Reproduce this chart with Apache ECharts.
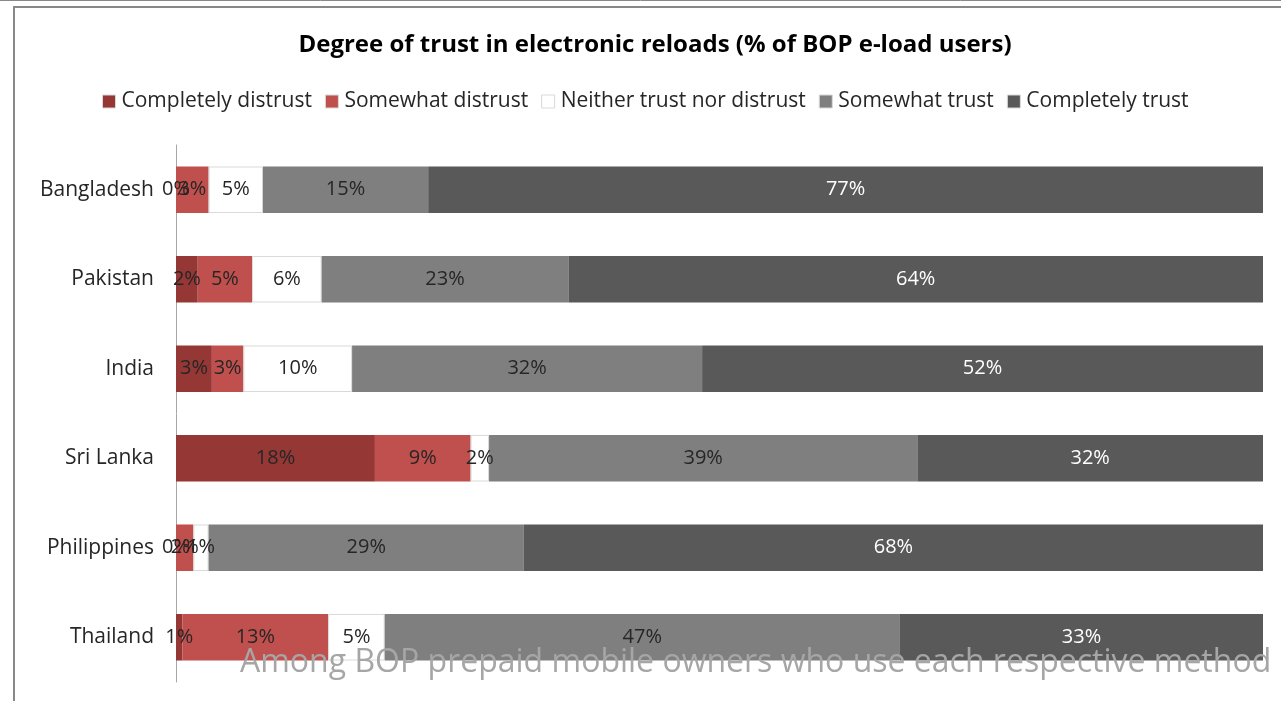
<!DOCTYPE html>
<html>
<head>
<meta charset="utf-8">
<script src="https://cdn.jsdelivr.net/npm/echarts@6/dist/echarts.min.js"></script>
<style>
html,body{margin:0;padding:0;background:#fff;}
#chart{width:1281px;height:701px;}
</style>
</head>
<body>
<div id="chart"></div>
<script>
const titleText = 'Degree of trust in electronic reloads (% of BOP e-load users)';
const noteText = 'Among BOP prepaid mobile owners who use each respective method';
const categories = ['Bangladesh', 'Pakistan', 'India', 'Sri Lanka', 'Philippines', 'Thailand'];
const seriesNames = ['Completely distrust', 'Somewhat distrust', 'Neither trust nor distrust', 'Somewhat trust', 'Completely trust'];
const completelyDistrust = [0.0, 2.0, 3.3, 18.3, 0.0, 0.6];
const somewhatDistrust  = [3.0, 5.0, 2.9, 8.8, 1.6, 13.4];
const neither           = [5.0, 6.4, 10.0, 1.7, 1.4, 5.2];
const somewhatTrust     = [15.2, 22.7, 32.2, 39.4, 29.0, 47.4];
const completelyTrust   = [76.8, 63.9, 51.6, 31.8, 68.0, 33.4];
const colors = ['#953735', '#C0504D', '#FFFFFF', '#7F7F7F', '#595959'];
const labelColors = ['#262626', '#262626', '#262626', '#262626', '#FFFFFF'];
const allData = [completelyDistrust, somewhatDistrust, neither, somewhatTrust, completelyTrust];
const FONT = '"Open Sans", "Liberation Sans", sans-serif';

const chart = echarts.init(document.getElementById('chart'), null, {renderer: 'canvas'});
const series = seriesNames.map((name, i) => ({
  name: name,
  type: 'bar',
  stack: 'total',
  barCategoryGap: '48%',
  data: allData[i],
  itemStyle: {color: colors[i], borderColor: '#D9D9D9', borderWidth: i === 2 ? 1 : 0},
  label: {
    show: true,
    position: 'inside',
    formatter: p => Math.round(p.value) + '%',
    color: labelColors[i],
    fontSize: 20,
    fontFamily: FONT
  },
  emphasis: {disabled: true}
}));

chart.setOption({
  animation: false,
  backgroundColor: '#FFFFFF',
  title: {
    text: titleText,
    left: 650,
    textAlign: 'center',
    top: 28,
    textStyle: {fontSize: 24, fontWeight: 'bold', color: '#000000', fontFamily: FONT}
  },
  legend: {
    data: seriesNames,
    left: 97,
    top: 86,
    itemWidth: 13,
    itemHeight: 13,
    itemGap: 13,
    icon: 'rect',
    textStyle: {fontSize: 21, color: '#262626', fontFamily: FONT, padding: [0, 0, 0, 1]},
    itemStyle: {borderColor: '#D9D9D9', borderWidth: 1}
  },
  grid: {left: 176, right: 18, top: 145, bottom: 19, containLabel: false},
  xAxis: {
    type: 'value',
    min: 0,
    max: 100,
    show: false
  },
  yAxis: {
    type: 'category',
    data: categories,
    inverse: true,
    axisLine: {show: true, lineStyle: {color: '#A6A6A6', width: 1}},
    axisTick: {show: false},
    axisLabel: {fontSize: 21, color: '#262626', fontFamily: FONT, margin: 22},
    splitLine: {show: false}
  },
  series: series,
  graphic: [
    {type: 'line', shape: {x1: 0, y1: 0.5, x2: 1281, y2: 0.5}, style: {stroke: '#888888', lineWidth: 1}, z: 100},
    {type: 'line', shape: {x1: 14, y1: 7, x2: 1281, y2: 7}, style: {stroke: '#888888', lineWidth: 2}, z: 100},
    {type: 'line', shape: {x1: 14, y1: 6, x2: 14, y2: 701}, style: {stroke: '#888888', lineWidth: 2}, z: 100},
    {type: 'text', left: 240, top: 647, style: {text: noteText, fill: '#A6A6A6', fontSize: 32, fontFamily: FONT}, z: 100}
  ]
});
</script>
</body>
</html>
